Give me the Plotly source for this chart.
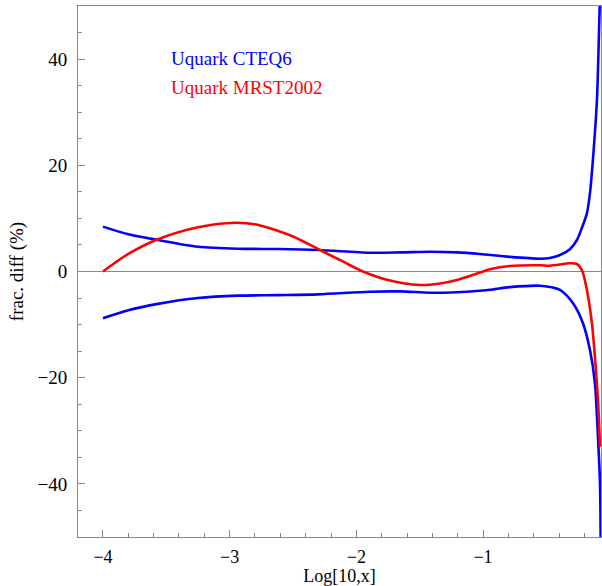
import plotly.graph_objects as go

# Fractional differences (%) of the u-quark PDF vs Log10(x)
cteq_up_x = [-4.0, -3.8, -3.566, -3.25, -2.934, -2.619, -2.3, -1.893, -1.65, -1.419,
             -1.206, -1.025, -0.788, -0.551, -0.472, -0.393, -0.314, -0.259, -0.22,
             -0.180, -0.155, -0.133, -0.101, -0.085, -0.07]
cteq_up_y = [8.45, 7.0, 5.93, 4.67, 4.29, 4.23, 4.05, 3.54, 3.6, 3.73,
             3.6, 3.29, 2.75, 2.41, 2.55, 3.10, 4.2, 5.93, 8.2,
             11.0, 15.0, 21.0, 32.3, 44.9, 58.0]

cteq_lo_x = [-4.0, -3.8, -3.566, -3.25, -2.934, -2.619, -2.3, -1.893, -1.65, -1.419,
             -1.206, -1.025, -0.946, -0.788, -0.551, -0.472, -0.393, -0.29, -0.212,
             -0.156, -0.117, -0.093, -0.077, -0.07]
cteq_lo_y = [-8.8, -7.3, -6.1, -5.0, -4.55, -4.45, -4.3, -3.8, -3.75, -4.0,
             -3.9, -3.62, -3.45, -2.95, -2.67, -2.9, -3.48, -5.98, -9.69,
             -14.8, -21.0, -31.2, -39.8, -58.0]

mrst_x = [-4.0, -3.8, -3.566, -3.25, -2.958, -2.8, -2.682, -2.496, -2.287, -2.1,
          -1.948, -1.75, -1.498, -1.35, -1.206, -1.025, -0.946, -0.788, -0.551,
          -0.472, -0.314, -0.259, -0.22, -0.180, -0.141, -0.117, -0.093, -0.077]
mrst_y = [0.0, 3.3, 6.06, 8.32, 9.18, 8.9, 8.13, 6.55, 4.05, 1.8,
          0.0, -1.6, -2.54, -2.3, -1.6, -0.2, 0.41, 1.03, 1.17,
          1.09, 1.54, 1.41, 0.28, -3.48, -9.69, -16.1, -24.2, -33.0]

x_ticks = [-4, -3, -2, -1]
y_ticks = [-40, -20, 0, 20, 40]

BLUE = "rgb(0,0,255)"
RED = "rgb(255,0,0)"
FRAME = "#8a8a8a"
FONT = "Liberation Serif"

fig = go.Figure()
for xs, ys, col in [(cteq_up_x, cteq_up_y, BLUE),
                    (cteq_lo_x, cteq_lo_y, BLUE),
                    (mrst_x, mrst_y, RED)]:
    fig.add_trace(go.Scatter(x=xs, y=ys, mode="lines",
                             line=dict(color=col, width=2.6, shape="spline", smoothing=0.8),
                             showlegend=False, hoverinfo="skip"))

fig.add_annotation(x=(169 - 78) / 523, y=0.902, xref="paper", yref="paper",
                   text="Uquark CTEQ6", showarrow=False, xanchor="left", yanchor="middle",
                   font=dict(family=FONT, size=19, color=BLUE))
fig.add_annotation(x=(169 - 78) / 523, y=0.847, xref="paper", yref="paper",
                   text="Uquark MRST2002", showarrow=False, xanchor="left", yanchor="middle",
                   font=dict(family=FONT, size=19, color=RED))

fig.update_layout(
    width=602, height=586,
    margin=dict(l=78, r=1, t=6, b=49),
    paper_bgcolor="white", plot_bgcolor="white",
    font=dict(family=FONT, size=19, color="black"),
    xaxis=dict(range=[-4.197, -0.069], tickvals=x_ticks, ticks="inside", ticklen=7,
               tickcolor=FRAME, showline=True, linecolor=FRAME, linewidth=1, mirror=True,
               showgrid=False, zeroline=False, ticklabelstandoff=3,
               tickfont=dict(size=18),
               minor=dict(dtick=0.2, ticks="inside", ticklen=4, tickcolor=FRAME),
               title=dict(text="Log[10,x]", standoff=3, font=dict(size=18))),
    yaxis=dict(range=[-50, 50], tickvals=y_ticks, ticks="inside", ticklen=7,
               tickcolor=FRAME, showline=True, linecolor=FRAME, linewidth=1, mirror=True,
               showgrid=False, zeroline=True, zerolinecolor=FRAME, zerolinewidth=1,
               ticklabelstandoff=6,
               minor=dict(dtick=5, ticks="inside", ticklen=4, tickcolor=FRAME),
               title=dict(text="frac. diff (%)", standoff=8, font=dict(size=19))),
)

fig.write_html("out.html")
